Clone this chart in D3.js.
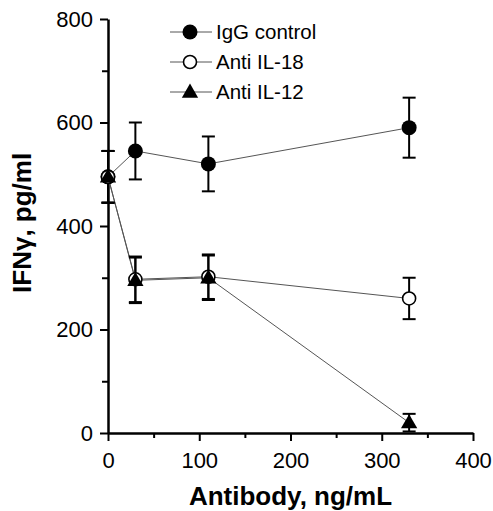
<!DOCTYPE html>
<html>
<head>
<meta charset="utf-8">
<script src="https://cdn.jsdelivr.net/npm/d3@7"></script>
<style>
  body { margin: 0; background: #fff; }
  svg text { font-family: "Liberation Sans", Arial, sans-serif; }
</style>
</head>
<body>
<div id="d3"></div>
<script>
// data
const doses = [0, 30, 110, 330];
const seriesNames = ["IgG control", "Anti IL-18", "Anti IL-12"];
const igg = [495, 545, 520, 590];
const iggErr = [50, 55, 53, 58];
const il18 = [495, 297, 302, 260];
const il18Err = [50, 44, 43, 40];
const il12 = [495, 295, 300, 20];
const il12Err = [50, 44, 43, 17];
const xTicks = [0, 100, 200, 300, 400];
const yTicks = [0, 200, 400, 600, 800];

const margin = { top: 19, right: 20, bottom: 78, left: 108 },
  width = 493 - margin.left - margin.right,
  height = 511 - margin.top - margin.bottom;

const svg = d3
  .select("#d3")
  .append("svg")
  .attr("width", 493)
  .attr("height", 511)
  .append("g")
  .attr("transform", `translate(${margin.left},${margin.top})`);

const x = d3.scaleLinear().domain([0, 400]).range([0, 365]);
const y = d3.scaleLinear().domain([0, 800]).range([height, 0]);

// minor ticks first
svg
  .append("g")
  .attr("transform", `translate(0,${height})`)
  .call(d3.axisBottom(x).tickValues([50, 150, 250, 350]).tickSize(5).tickFormat(""))
  .call((g) => g.select(".domain").remove())
  .selectAll("line")
  .attr("stroke-width", 2);
svg
  .append("g")
  .call(d3.axisLeft(y).tickValues([100, 300, 500, 700]).tickSize(6).tickFormat(""))
  .call((g) => g.select(".domain").remove())
  .selectAll("line")
  .attr("stroke-width", 2);

// X axis
const xAxis = svg
  .append("g")
  .attr("transform", `translate(0,${height})`)
  .call(d3.axisBottom(x).tickValues(xTicks).tickSize(8).tickSizeOuter(0));
xAxis.select(".domain").attr("stroke-width", 2.5);
xAxis.selectAll("line").attr("stroke-width", 2);
xAxis.selectAll("text").attr("font-size", 22).attr("dy", "1.1em").attr("fill", "#000");

// Y axis
const yAxis = svg
  .append("g")
  .call(d3.axisLeft(y).tickValues(yTicks).tickSize(8).tickSizeOuter(0));
yAxis.select(".domain").attr("stroke-width", 2.5);
yAxis.selectAll("line").attr("stroke-width", 2);
yAxis.selectAll("text").attr("font-size", 22).attr("x", -15).attr("fill", "#000");

// axis titles
svg
  .append("text")
  .attr("x", x(200))
  .attr("y", height + 72)
  .attr("text-anchor", "middle")
  .attr("font-size", 26)
  .attr("font-weight", "bold")
  .text("Antibody, ng/mL");

svg
  .append("text")
  .attr("transform", `translate(${-77},${y(406)}) rotate(-90)`)
  .attr("text-anchor", "middle")
  .attr("font-size", 26)
  .attr("font-weight", "bold")
  .text("IFNγ, pg/ml");

const series = [
  { name: seriesNames[0], values: igg, err: iggErr, type: "filled" },
  { name: seriesNames[1], values: il18, err: il18Err, type: "open" },
  { name: seriesNames[2], values: il12, err: il12Err, type: "triangle" },
];

const line = d3
  .line()
  .x((d) => x(d[0]))
  .y((d) => y(d[1]));

// connecting lines
svg
  .selectAll(".conn")
  .data(series)
  .join("path")
  .attr("class", "conn")
  .attr("d", (s) => line(doses.map((d, i) => [d, s.values[i]])))
  .attr("fill", "none")
  .attr("stroke", "#555")
  .attr("stroke-width", 1);

function drawMarker(g, type, cx, cy, scale) {
  if (type === "filled") {
    g.append("circle").attr("cx", cx).attr("cy", cy).attr("r", 7.5 * scale).attr("fill", "#000");
  } else if (type === "open") {
    g.append("circle")
      .attr("cx", cx)
      .attr("cy", cy)
      .attr("r", 6.5 * scale)
      .attr("fill", "#fff")
      .attr("stroke", "#000")
      .attr("stroke-width", 1.6);
  } else {
    g.append("path")
      .attr("transform", `translate(${cx},${cy + 1})`)
      .attr("d", d3.symbol(d3.symbolTriangle, 115 * scale * scale)())
      .attr("fill", "#000");
  }
}

// error bars + markers
series.forEach((s) => {
  const g = svg.append("g");
  doses.forEach((d, i) => {
    const cx = x(d),
      hi = y(s.values[i] + s.err[i]),
      lo = y(Math.max(0, s.values[i] - s.err[i]));
    g.append("line").attr("x1", cx).attr("x2", cx).attr("y1", hi).attr("y2", lo)
      .attr("stroke", "#000").attr("stroke-width", 2);
    [hi, lo].forEach((yy) => {
      g.append("line").attr("x1", cx - 6.5).attr("x2", cx + 6.5).attr("y1", yy).attr("y2", yy)
        .attr("stroke", "#000").attr("stroke-width", 2);
    });
  });
});
series.forEach((s) => {
  const g = svg.append("g");
  doses.forEach((d, i) => drawMarker(g, s.type, x(d), y(s.values[i]), 1));
});

// legend
const legend = svg.append("g").attr("transform", `translate(62,13)`);
series.forEach((s, i) => {
  const row = legend.append("g").attr("transform", `translate(0,${i * 30})`);
  row.append("line").attr("x1", 0).attr("x2", 42).attr("stroke", "#555").attr("stroke-width", 1);
  drawMarker(row, s.type, 20, 0, 1);
  row.append("text").attr("x", 46).attr("dy", "0.36em").attr("font-size", 20.5).text(s.name);
});
</script>
</body>
</html>
